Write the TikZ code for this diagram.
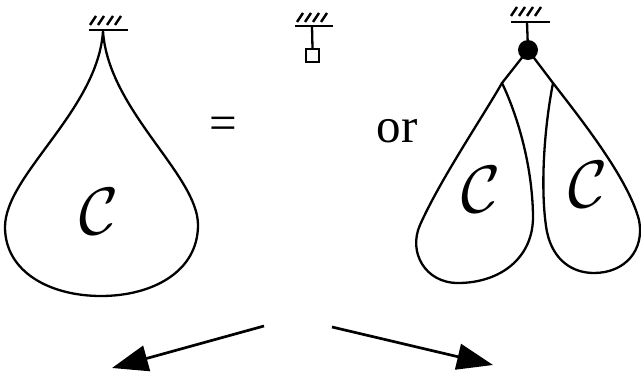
\documentclass[tikz,border=0pt]{standalone}
\usepackage{fontspec}
\setmainfont{Liberation Serif}
\usepackage{graphicx}
\usetikzlibrary{arrows.meta}
\begin{document}
\begin{tikzpicture}[x=1pt,y=-1pt,
  outline/.style={line width=2.3pt, line join=round, line cap=round},
  hatch/.style={line width=2.4pt},
  ground/.style={line width=2.6pt},
  calC/.style={inner sep=0pt},
  bigtext/.style={font=\fontsize{49}{49}\selectfont, inner sep=0pt, anchor=base},
  arr/.style={line width=2.7pt, -{Triangle[length=36pt,width=26pt]}},
]
\useasboundingbox (0,0) rectangle (641,372);

% ---------- big drop ----------
\coordinate (gA1) at (89,30);
\coordinate (gA2) at (128,30);
\coordinate (A) at (103,31);
\draw[ground] (gA1) -- (gA2);
\foreach \x in {90,98,107,115} \draw[hatch] (\x,25) -- ++(6,-9);
\draw[outline] (A) .. controls (98,110) and (5,175) .. (5,227)
  .. controls (5,272) and (50,296) .. (101,296)
  .. controls (152,296) and (198,272) .. (198,225)
  .. controls (198,175) and (108,110) .. (A);
\node[calC] (C1) at (99,212) {\scalebox{6.7}{$\mathcal{C}$}};

% ---------- equals ----------
\node[bigtext] (eq) at (223,139) {=};

% ---------- small symbol ----------
\coordinate (gB1) at (295,26);
\coordinate (gB2) at (333,26);
\coordinate (gB) at (312,26);
\draw[ground] (gB1) -- (gB2);
\foreach \x in {297,305,313,321} \draw[hatch] (\x,22) -- ++(6,-9);
\node[draw, line width=2pt, minimum size=13pt, inner sep=0pt] (sq) at (312.5,55.5) {};
\draw[outline] (gB) -- (sq.north);

% ---------- or ----------
\node[bigtext] (or) at (397,142) {or};

% ---------- two drops ----------
\coordinate (gC1) at (511,22);
\coordinate (gC2) at (550,22);
\coordinate (gC) at (527,22);
\draw[ground] (gC1) -- (gC2);
\foreach \x in {511,519,527,535} \draw[hatch] (\x,16) -- ++(6,-9);
\node[circle, fill, inner sep=0pt, minimum size=20pt] (dot) at (528,50) {};
\draw[outline] (gC) -- (dot);

\coordinate (L0) at (502,83);
\draw[outline] (dot.center) -- (L0)
  .. controls (482,118) and (440,180) .. (420,225)
  .. controls (408,252) and (425,283) .. (458,283)
  .. controls (500,283) and (534,258) .. (533,215)
  .. controls (532,160) and (515,110) .. (L0);

\coordinate (R0) at (553,83);
\draw[outline] (dot.center) -- (R0)
  .. controls (580,118) and (628,178) .. (639,220)
  .. controls (645,250) and (625,273) .. (594,273)
  .. controls (572,273) and (553,260) .. (547,232)
  .. controls (541,200) and (542,140) .. (R0);

\node[calC] (C2) at (481,190) {\scalebox{6.7}{$\mathcal{C}$}};
\node[calC] (C3) at (588,185) {\scalebox{6.7}{$\mathcal{C}$}};

% ---------- arrows ----------
\coordinate (a1s) at (264,326);
\coordinate (a1e) at (112,368);
\coordinate (a2s) at (332,327);
\coordinate (a2e) at (493,365);
\draw[arr] (a1s) -- (a1e);
\draw[arr] (a2s) -- (a2e);
\end{tikzpicture}
\end{document}
